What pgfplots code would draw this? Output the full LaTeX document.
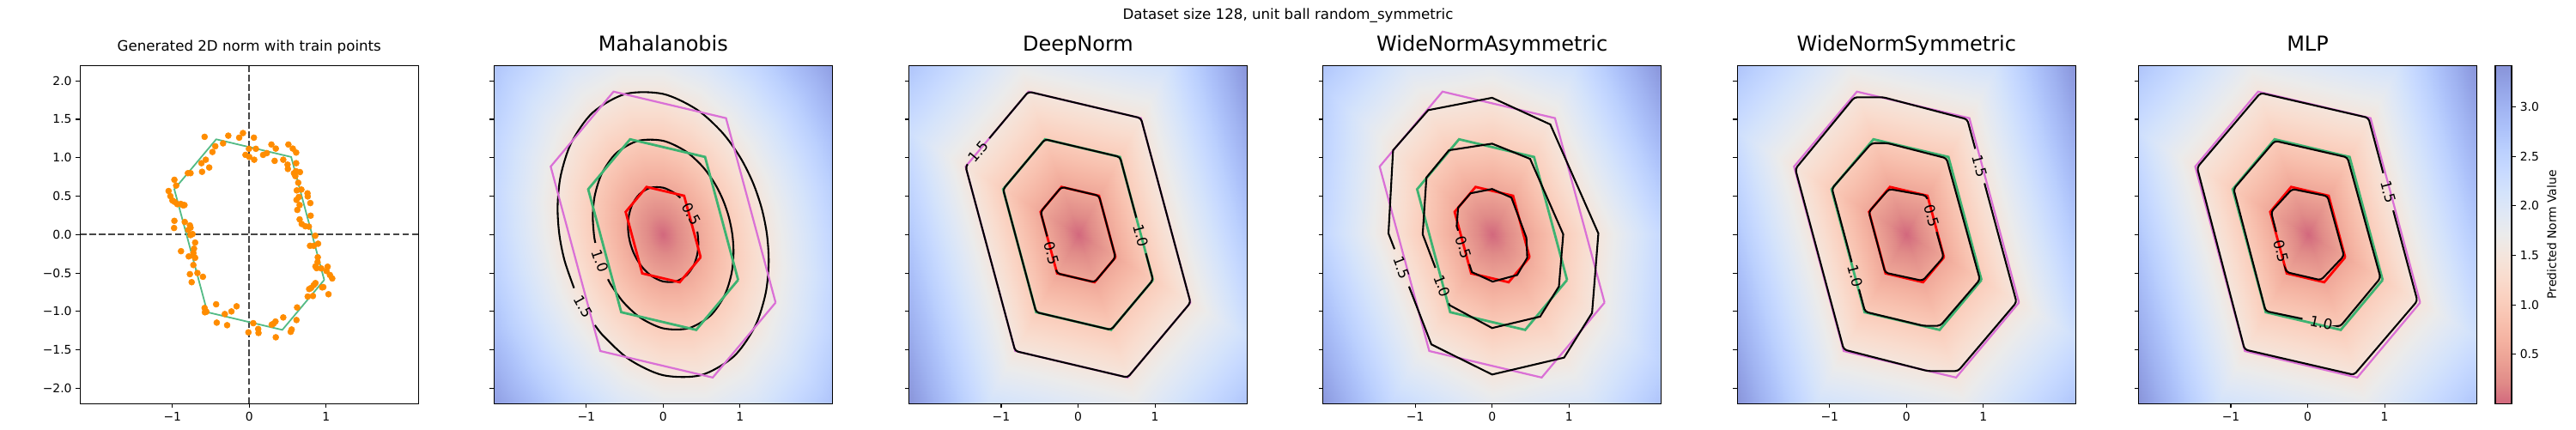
\documentclass[border=0pt]{standalone}
\usepackage{fontspec}
\setmainfont{DejaVu Sans}
\usepackage{pgfplots}
\pgfplotsset{compat=1.18}
\definecolor{cmax}{RGB}{137,148,217}
\definecolor{mseagreen}{RGB}{60,179,113}
\definecolor{orchidc}{RGB}{218,112,214}
\definecolor{gtlight}{RGB}{84,187,134}
\definecolor{dorange}{RGB}{255,140,0}
\definecolor{dashgray}{RGB}{70,70,70}
\tikzset{clab/.style={font=\fontsize{12}{14}\selectfont, inner sep=0pt}}
\pgfplotsset{
  colormap={cwr}{rgb255=(210,104,125) rgb255=(224,139,136) rgb255=(235,160,148) rgb255=(244,178,161) rgb255=(248,194,176) rgb255=(250,208,191) rgb255=(249,220,206) rgb255=(244,229,220) rgb255=(235,235,235) rgb255=(224,232,245) rgb255=(212,227,251) rgb255=(200,218,255) rgb255=(187,208,254) rgb255=(173,194,250) rgb255=(161,180,242) rgb255=(148,164,231) rgb255=(137,148,217)},
  panel/.style={
    scale only axis, width=283.68pt, height=283.68pt, anchor=south west,
    xmin=-2.2, xmax=2.2, ymin=-2.2, ymax=2.2,
    xtick={-1,0,1}, xticklabels={−1,0,1},
    ytick={-2,-1.5,-1,-0.5,0,0.5,1,1.5,2},
    xtick pos=bottom, ytick pos=left,
    tick align=outside, major tick length=3.5pt,
    tick style={line width=0.8pt, black},
    axis line style={line width=0.8pt},
    tick label style={font=\fontsize{10}{12}\selectfont},
    title style={at={(0.5,1)}, anchor=base, yshift=5.76pt, inner sep=0pt, font=\fontsize{17.28}{20}\selectfont},
    axis on top,
  },
  heat/.style={panel, colormap name=cwr, point meta min=0, point meta max=3.42,
    yticklabels={}, axis background/.style={fill=cmax}},
  cont/.style={black, line width=1.5pt, rounded corners=2.5pt},
}
\newcommand{\truepolys}{%
  \addplot[red, line width=2pt] coordinates {(0.4875,-0.295) (0.2725,0.505) (-0.215,0.62) (-0.4875,0.295) (-0.2725,-0.505) (0.215,-0.62) (0.4875,-0.295)};
  \addplot[mseagreen, line width=2pt] coordinates {(0.975,-0.59) (0.545,1.01) (-0.43,1.24) (-0.975,0.59) (-0.545,-1.01) (0.43,-1.24) (0.975,-0.59)};
  \addplot[orchidc, line width=1.6pt] coordinates {(1.4625,-0.885) (0.8175,1.515) (-0.645,1.86) (-1.4625,0.885) (-0.8175,-1.515) (0.645,-1.86) (1.4625,-0.885)};
}
\newcommand{\hexheat}{%
  \addplot[patch, patch type=triangle, shader=interp, table/row sep=\\,
    patch table={0 1 2\\0 2 3\\0 3 4\\0 4 5\\0 5 6\\0 6 1\\}]
    table[point meta=\thisrow{c}] {x y c\\ 0 0 0\\ 3.3345 -2.0178 3.42\\ 1.8639 3.4542 3.42\\ -1.4706 4.2408 3.42\\ -3.3345 2.0178 3.42\\ -1.8639 -3.4542 3.42\\ 1.4706 -4.2408 3.42\\};
}
\begin{document}
\begin{tikzpicture}
\path[use as bounding box] (0,0) rectangle (2160pt,360pt);
\node[anchor=base, font=\fontsize{12}{14}\selectfont] at (1080pt,343.8pt) {Dataset size 128, unit ball random\_symmetric};

% ---------- Panel 1 ----------
\begin{axis}[panel, at={(67.18pt,21.38pt)},
  yticklabels={−2.0,−1.5,−1.0,−0.5,0.0,0.5,1.0,1.5,2.0},
  title={Generated 2D norm with train points},
  title style={font=\fontsize{12}{14}\selectfont}]
\addplot[dashgray, line width=1.5pt, dash pattern=on 5.55pt off 2.4pt] coordinates {(-2.2,0) (2.2,0)};
\addplot[dashgray, line width=1.5pt, dash pattern=on 5.55pt off 2.4pt] coordinates {(0,-2.2) (0,2.2)};
\addplot[gtlight, line width=1.3pt] coordinates {(0.975,-0.59) (0.545,1.01) (-0.43,1.24) (-0.975,0.59) (-0.545,-1.01) (0.43,-1.24) (0.975,-0.59)};
\addplot[only marks, mark=*, mark size=2.5pt, mark options={fill=dorange, draw=dorange}] coordinates {
(-0.581,1.272) (-0.273,1.287) (-0.082,1.321) (-0.131,1.261) (0.060,1.261) (-0.341,1.187) (-0.442,1.149) (-0.479,1.075) (-0.004,1.116) (0.086,1.116) (-0.049,1.037) (0.0,1.011) (0.064,0.974) (0.180,1.037) (0.228,1.060) (0.288,1.172) (0.345,1.119) (0.509,1.172) (0.566,1.119) (0.610,1.067) (0.330,0.959) (0.442,0.974) (0.498,0.910) (0.610,0.929) (0.502,0.854) (0.607,0.825) (0.581,0.799) (0.659,0.813) (0.599,0.761) (0.637,0.675) (0.618,0.575) (0.678,0.586) (0.757,0.537) (0.760,0.496) (0.794,0.410) (0.644,0.489) (0.614,0.451) (0.655,0.384) (0.625,0.321) (0.798,0.246) (0.655,0.198) (0.682,0.138) (0.730,0.108) (0.775,0.104) (0.858,-0.015) (0.790,-0.146) (0.839,-0.146) (0.895,-0.119) (0.891,-0.295) (0.888,-0.358) (0.861,-0.414) (0.876,-0.437) (0.936,-0.440) (1.019,-0.418) (1.004,-0.474) (1.049,-0.526) (1.079,-0.571) (0.948,-0.687) (0.861,-0.631) (0.839,-0.657) (0.805,-0.694) (0.779,-0.709) (0.760,-0.806) (0.828,-0.799) (0.963,-0.683) (1.030,-0.776) (0.622,-0.948) (0.614,-1.112) (0.442,-1.078) (0.551,-1.235) (0.539,-1.265) (0.341,-1.131) (0.315,-1.160) (0.292,-1.172) (0.345,-1.336) (0.052,-1.153) (-0.011,-1.272) (0.116,-1.228) (0.120,-1.280) (-0.165,-0.933) (-0.232,-1.000) (-0.318,-1.034) (-0.288,-1.179) (-0.423,-1.146) (-0.431,-0.907) (-0.581,-0.955) (-0.577,-1.011) (-0.558,-1.004) (-0.603,-0.549) (-0.674,-0.500) (-0.772,-0.515) (-0.749,-0.619) (-0.727,-0.396) (-0.704,-0.302) (-0.727,-0.239) (-0.719,-0.183) (-0.704,-0.104) (-0.787,-0.284) (-0.727,-0.276) (-0.888,-0.216) (-0.764,-0.007) (-0.738,0.007) (-0.794,0.060) (-0.772,0.119) (-0.839,0.164) (-0.974,0.179) (-0.978,0.086) (-0.861,0.381) (-0.936,0.396) (-0.970,0.425) (-1.0,0.444) (-1.049,0.567) (-1.026,0.500) (-0.974,0.713) (-0.951,0.638) (-0.798,0.799) (-0.764,0.799) (-0.614,0.817) (-0.521,0.873) (-0.566,0.974) (-0.622,0.929) (-0.891,0.399) (-0.843,0.384) (-0.764,0.090)};
\end{axis}

% ---------- Panel 2: Mahalanobis ----------
\begin{axis}[heat, at={(414.22pt,21.38pt)}, title={Mahalanobis}]
\addplot[patch, patch type=triangle, shader=interp, table/row sep=\\,
  patch table={0 1 2\\0 2 3\\0 3 4\\0 4 5\\0 5 6\\0 6 7\\0 7 8\\0 8 9\\0 9 10\\0 10 11\\0 11 12\\0 12 13\\0 13 14\\0 14 15\\0 15 16\\0 16 17\\0 17 18\\0 18 19\\0 19 20\\0 20 21\\0 21 22\\0 22 23\\0 23 24\\0 24 1\\}]
  table[point meta=\thisrow{c}] {x y c\\ 0 0 0\\
  3.078 0 3.42\\ 2.9207 0.7825 3.42\\ 2.6632 1.5376 3.42\\ 2.287 2.287 3.42\\ 1.7493 3.0301 3.42\\ 0.9945 3.7117 3.42\\
  0 4.1724 3.42\\ -1.1177 4.1717 3.42\\ -2.0896 3.6194 3.42\\ -2.7237 2.7237 3.42\\ -3.037 1.7534 3.42\\ -3.1293 0.8386 3.42\\
  -3.078 0 3.42\\ -2.9207 -0.7825 3.42\\ -2.6632 -1.5376 3.42\\ -2.287 -2.287 3.42\\ -1.7493 -3.0301 3.42\\ -0.9945 -3.7117 3.42\\
  0 -4.1724 3.42\\ 1.1177 -4.1717 3.42\\ 2.0896 -3.6194 3.42\\ 2.7237 -2.7237 3.42\\ 3.037 -1.7534 3.42\\ 3.1293 -0.8386 3.42\\};
\addplot[black, line width=1.5pt, smooth] coordinates {(0.2229,0.478) (0.1454,0.5427) (0,0.61) (-0.1634,0.6099) (-0.3055,0.5292) (-0.3982,0.3982) (-0.444,0.2564) (-0.4575,0.1226) (-0.45,0) (-0.427,-0.1144) (-0.3894,-0.2248) (-0.3344,-0.3344) (-0.2558,-0.443) (-0.1454,-0.5427) (0,-0.61) (0.1634,-0.6099) (0.3055,-0.5292) (0.3982,-0.3982) (0.444,-0.2564) (0.4575,-0.1226) (0.45,0) (0.4439,0.0389)};
\addplot[black, line width=1.5pt, smooth] coordinates {(-0.7175,-0.581) (-0.6687,-0.6687) (-0.5115,-0.886) (-0.2908,-1.0853) (0,-1.22) (0.3268,-1.2198) (0.611,-1.0583) (0.7964,-0.7964) (0.888,-0.5127) (0.915,-0.2452) (0.9,0) (0.854,0.2288) (0.7787,0.4496) (0.6687,0.6687) (0.5115,0.886) (0.2908,1.0853) (0,1.22) (-0.3268,1.2198) (-0.611,1.0583) (-0.7964,0.7964) (-0.888,0.5127) (-0.915,0.2452) (-0.9,0) (-0.8821,-0.1083)};
\addplot[black, line width=1.5pt, smooth] coordinates {(-0.8876,-1.178) (-0.7673,-1.329) (-0.4362,-1.628) (0,-1.83) (0.4902,-1.8297) (0.9165,-1.5875) (1.1946,-1.1946) (1.332,-0.769) (1.3725,-0.3678) (1.35,0) (1.281,0.3432) (1.168,0.6744) (1.003,1.003) (0.7673,1.329) (0.4362,1.628) (0,1.83) (-0.4902,1.8297) (-0.9165,1.5875) (-1.1946,1.1946) (-1.332,0.769) (-1.3725,0.3678) (-1.35,0) (-1.281,-0.3432) (-1.1589,-0.6963)};
\truepolys
\node[clab, rotate=-62] at (axis cs:0.3697,0.2687) {0.5};
\node[clab, rotate=-71] at (axis cs:-0.8201,-0.3397) {1.0};
\node[clab, rotate=-61] at (axis cs:-1.0409,-0.9372) {1.5};
\end{axis}

% ---------- Panel 3: DeepNorm ----------
\begin{axis}[heat, at={(762.12pt,21.38pt)}, title={DeepNorm}]
\hexheat
\truepolys
\addplot[cont] coordinates {(-1.154,1.253) (-0.645,1.86) (0.8175,1.515) (1.4625,-0.885) (0.645,-1.86) (-0.8175,-1.515) (-1.4625,0.885) (-1.4368,0.9157)};
\addplot[cont] coordinates {(0.8824,-0.2454) (0.975,-0.59) (0.43,-1.24) (-0.545,-1.01) (-0.975,0.59) (-0.43,1.24) (0.545,1.01) (0.7573,0.2201)};
\addplot[cont] coordinates {(-0.2851,-0.4582) (-0.2725,-0.505) (0.215,-0.62) (0.4875,-0.295) (0.2725,0.505) (-0.215,0.62) (-0.4875,0.295) (-0.4019,-0.0237)};
\node[clab, rotate=50] at (axis cs:-1.2954,1.0843) {1.5};
\node[clab, rotate=-75] at (axis cs:0.8201,-0.0136) {1.0};
\node[clab, rotate=-75] at (axis cs:-0.3435,-0.241) {0.5};
\end{axis}

% ---------- Panel 4: WideNormAsymmetric ----------
\begin{axis}[heat, at={(1109.30pt,21.38pt)}, title={WideNormAsymmetric}]
\addplot[patch, patch type=triangle, shader=interp, table/row sep=\\,
  patch table={0 1 2\\0 2 3\\0 3 4\\0 4 5\\0 5 6\\0 6 7\\0 7 8\\0 8 9\\0 9 10\\0 10 1\\}]
  table[point meta=\thisrow{c}] {x y c\\ 0 0 0\\
  0 4.0459 3.42\\ -1.922 3.7517 3.42\\ -2.9207 2.5411 3.42\\ -3.0883 0.0137 3.42\\ -1.8947 -3.1396 3.42\\
  0 -4.1587 3.42\\ 2.1375 -3.6491 3.42\\ 2.972 -2.3085 3.42\\ 3.1635 0.0137 3.42\\ 1.6895 3.3687 3.42\\};
\truepolys
\addplot[black, line width=1.5pt] coordinates {(-1.0812,-0.6753) (-0.79,-1.429) (0,-1.821) (0.936,-1.601) (1.3,-1.019) (1.382,0.015) (0.757,1.433) (0,1.78) (-0.831,1.619) (-1.288,1.097) (-1.348,0.015) (-1.2687,-0.1902)};
\addplot[black, line width=1.5pt] coordinates {(-0.5632,-0.8939) (-0.554,-0.918) (0,-1.216) (0.625,-1.067) (0.869,-0.675) (0.925,0.004) (0.494,0.985) (0,1.183) (-0.562,1.097) (-0.854,0.743) (-0.903,0.004) (-0.7377,-0.4328)};
\addplot[black, line width=1.5pt] coordinates {(-0.2966,-0.3853) (-0.262,-0.489) (0.007,-0.612) (0.326,-0.526) (0.457,-0.302) (0.446,-0.041) (0.251,0.481) (0,0.593) (-0.281,0.537) (-0.442,0.351) (-0.461,0.108) (-0.442,0.0511)};
\node[clab, rotate=-69] at (axis cs:-1.175,-0.4328) {1.5};
\node[clab, rotate=-69] at (axis cs:-0.6481,-0.6694) {1.0};
\node[clab, rotate=-72] at (axis cs:-0.3693,-0.1671) {0.5};
\end{axis}

% ---------- Panel 5: WideNormSymmetric ----------
\begin{axis}[heat, at={(1456.78pt,21.38pt)}, title={WideNormSymmetric}]
\hexheat
\truepolys
\addplot[cont] coordinates {(0.8935,1.1157) (0.79,1.5) (-0.303,1.787) (-0.678,1.787) (-1.446,0.854) (-0.816,-1.496) (0.277,-1.776) (0.67,-1.776) (1.431,-0.88) (1.0141,0.6677)};
\addplot[cont] coordinates {(-0.6171,-0.7134) (-0.539,-1.004) (0.22,-1.187) (0.438,-1.187) (0.955,-0.586) (0.52,0.993) (-0.25,1.19) (-0.453,1.19) (-0.97,0.6) (-0.7126,-0.358)};
\addplot[cont] coordinates {(0.3913,0.0344) (0.483,-0.291) (0.21,-0.601) (-0.277,-0.496) (-0.49,0.295) (-0.228,0.593) (0.258,0.507) (0.2705,0.4627)};
\node[clab, rotate=-75] at (axis cs:0.9538,0.8917) {1.5};
\node[clab, rotate=-75] at (axis cs:-0.6648,-0.5357) {1.0};
\node[clab, rotate=-74] at (axis cs:0.3313,0.247) {0.5};
\end{axis}

% ---------- Panel 6: MLP ----------
\begin{axis}[heat, at={(1793.16pt,21.38pt)}, title={MLP},
  colorbar,
  colorbar style={
    at={(parent axis.north east)}, anchor=north west, xshift=6.9pt,
    scale only axis, width=13.7pt, height=283.68pt,
    ytick={0.5,1,1.5,2,2.5,3}, yticklabels={0.5,1.0,1.5,2.0,2.5,3.0},
    yticklabel pos=right, ytick pos=right,
    tick align=outside, major tick length=3.5pt,
    tick style={line width=0.8pt, black},
    axis line style={line width=0.8pt},
    tick label style={font=\fontsize{10}{12}\selectfont},
    ylabel={Predicted Norm Value}, ylabel near ticks,
    ylabel style={font=\fontsize{10}{12}\selectfont},
  }]
\hexheat
\truepolys
\addplot[cont] coordinates {(0.9825,0.7993) (0.79,1.519) (-0.614,1.843) (-1.438,0.873) (-0.82,-1.496) (0.603,-1.825) (1.427,-0.862) (1.1125,0.3134)};
\addplot[cont] coordinates {(0.4025,-1.1944) (0.42,-1.198) (0.948,-0.563) (0.517,1.004) (-0.427,1.22) (-0.963,0.593) (-0.547,-0.996) (-0.0673,-1.0962)};
\addplot[cont] coordinates {(-0.2817,-0.4707) (-0.277,-0.489) (0.172,-0.593) (0.472,-0.276) (0.258,0.5) (-0.202,0.593) (-0.476,0.295) (-0.4098,0.0343)};
\node[clab, rotate=-75] at (axis cs:1.0476,0.5559) {1.5};
\node[clab, rotate=-12] at (axis cs:0.1774,-1.1473) {1.0};
\node[clab, rotate=-76] at (axis cs:-0.3456,-0.2187) {0.5};
\end{axis}
\end{tikzpicture}
\end{document}
